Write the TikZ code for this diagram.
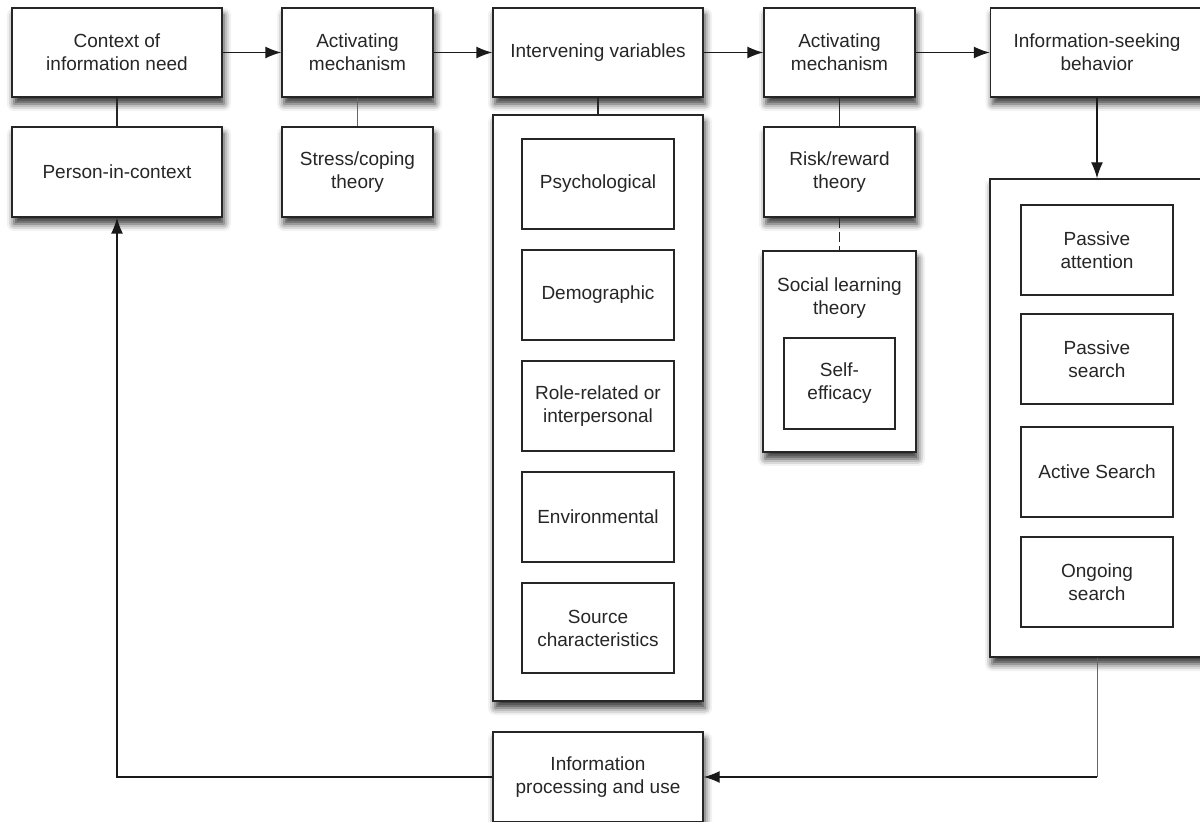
\documentclass[tikz,border=0pt]{standalone}
\usepackage{fontspec}
\setmainfont{Liberation Sans}
\usetikzlibrary{arrows.meta,shadows.blur}

\begin{document}
\begin{tikzpicture}[x=0.5pt,y=-0.5pt,
  font=\fontsize{9.5}{11.5}\selectfont,
  box/.style={draw=black!85,fill=white,line width=0.7pt,align=center,inner sep=2pt,
    minimum width=105pt,minimum height=44.5pt,text=black!85,
    blur shadow={shadow xshift=1pt,shadow yshift=-3.5pt,shadow blur radius=3.5pt,shadow opacity=80}},
  smallbox/.style={box,minimum width=75.5pt},
  innerbox/.style={draw=black!85,fill=white,line width=0.55pt,align=center,inner sep=2pt,
    minimum width=76pt,minimum height=45pt,text=black!85},
  arr/.style={-{Latex[length=8pt,width=6pt]},line width=0.7pt,black!90},
  link/.style={line width=0.65pt,black!85},
  thinlink/.style={line width=0.4pt,black!60}]
  \useasboundingbox (0,0) rectangle (1200,822);

  %------ top row
  \node[box] (ctx) at (117,52.5) {Context of\\information need};
  \node[smallbox] (act1) at (357.5,52.5) {Activating\\mechanism};
  \node[box] (var) at (598,52.5) {Intervening variables};
  \node[smallbox] (act2) at (839.5,52.5) {Activating\\mechanism};
  \node[box,minimum width=106.5pt] (seek) at (1097,52.5) {Information-seeking\\behavior};

  \draw[arr] (ctx) -- (act1);
  \draw[arr] (act1) -- (var);
  \draw[arr] (var) -- (act2);
  \draw[arr] (act2) -- (seek);

  %------ second row
  \node[box,minimum height=45pt] (pic) at (117,172) {Person-in-context};
  \node[smallbox,minimum height=45pt] (stress) at (357.5,172) {Stress/coping\\theory};
  \node[smallbox,minimum height=45pt] (risk) at (839.5,172) {Risk/reward\\theory};

  \draw[link] (ctx) -- (pic);
  \draw[thinlink] (act1) -- (stress);
  \draw[link] (act2) -- (risk);

  %------ intervening variables
  \node[box,minimum height=293pt] (varbox) at (598,408) {};
  \foreach \y/\t [count=\i] in {184/Psychological, 295/Demographic,
      406/{Role-related or\\interpersonal}, 517/Environmental, 628/{Source\\characteristics}}
    \node[innerbox] (var\i) at (598,\y) {\t};
  \draw[link] (var) -- (varbox);

  %------ social learning
  \node[box,minimum width=76.5pt,minimum height=100.5pt] (social) at (839.5,351.5) {};
  \node[align=center,text=black!85] (sociallbl) at (839.5,298) {Social learning\\theory};
  \node[innerbox,minimum width=55.5pt,minimum height=45.5pt] (efficacy) at (839.5,383.5) {Self-\\efficacy};
  \draw[link,dash pattern=on 5pt off 2pt] (risk) -- (social);

  %------ seeking behavior
  \node[box,minimum width=107pt,minimum height=239pt] (seekbox) at (1097,418) {};
  \foreach \y/\t [count=\i] in {250/{Passive\\attention}, 359/{Passive\\search},
      472/Active Search, 582/{Ongoing\\search}}
    \node[innerbox] (seek\i) at (1097,\y) {\t};
  \draw[arr] (seek) -- (seekbox);

  %------ processing and feedback
  \node[box,minimum height=45pt] (use) at (598,777) {Information\\processing and use};

  \coordinate (corner) at (seekbox.south |- use.east);
  \draw[thinlink] (seekbox.south) -- (corner);
  \draw[arr] (corner) -- (use.east);
  \draw[arr] (use.west) -| (pic.south);

\end{tikzpicture}
\end{document}
